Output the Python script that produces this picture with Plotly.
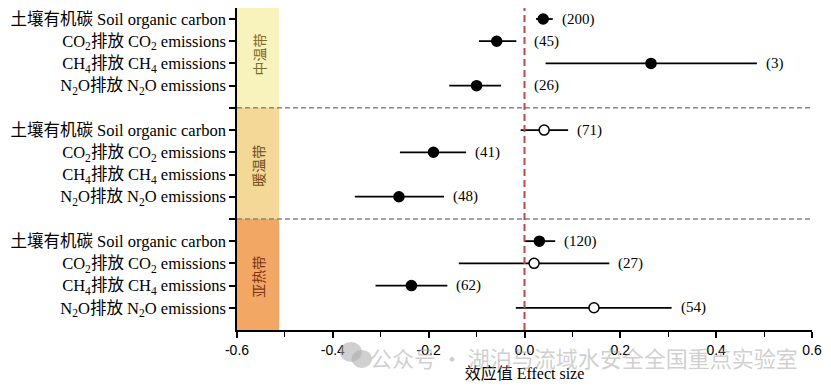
import plotly.graph_objects as go

# ---------------- data ----------------
zones = ["中温带", "暖温带", "亚热带"]
variables = [
    "土壤有机碳 Soil organic carbon",
    "CO<sub>2</sub>排放 CO<sub>2</sub> emissions",
    "CH<sub>4</sub>排放 CH<sub>4</sub> emissions",
    "N<sub>2</sub>O排放 N<sub>2</sub>O emissions",
]
# effect size (mean) per zone, order = variables; None = no data
effect_temperate = [0.039, -0.058, 0.264, -0.100]
effect_warm = [0.041, -0.190, None, -0.262]
effect_subtropical = [0.031, 0.020, -0.236, 0.145]
# lower / upper 95% CI
lower_temperate = [0.024, -0.095, 0.044, -0.157]
upper_temperate = [0.059, -0.017, 0.485, -0.049]
lower_warm = [-0.008, -0.260, None, -0.354]
upper_warm = [0.091, -0.122, None, -0.168]
lower_subtropical = [-0.001, -0.137, -0.311, -0.018]
upper_subtropical = [0.064, 0.177, -0.161, 0.307]
# sample sizes
n_temperate = [200, 45, 3, 26]
n_warm = [71, 41, None, 48]
n_subtropical = [120, 27, 62, 54]
# significant (filled) or not (open)
sig_temperate = [True, True, True, True]
sig_warm = [False, True, None, True]
sig_subtropical = [True, False, True, False]
x_ticks = [-0.6, -0.4, -0.2, 0.0, 0.2, 0.4, 0.6]

effects = [effect_temperate, effect_warm, effect_subtropical]
lowers = [lower_temperate, lower_warm, lower_subtropical]
uppers = [upper_temperate, upper_warm, upper_subtropical]
ns = [n_temperate, n_warm, n_subtropical]
sigs = [sig_temperate, sig_warm, sig_subtropical]

band_colors = ["#f8f3bd", "#f3d898", "#f2a765"]
band_text_colors = ["#7d6a2c", "#6e4f22", "#7a3414"]

SERIF = "Liberation Serif, Times New Roman, Noto Sans CJK SC, serif"
SANS = "Liberation Sans, Arial, sans-serif"

xs, ys, em, ep, colors = [], [], [], [], []
annotations = []
tickvals, ticktext = [], []
for z in range(len(zones)):
    for v in range(len(variables)):
        row = z * 5 + v + 1
        tickvals.append(row)
        ticktext.append(variables[v])
        e = effects[z][v]
        if e is None:
            continue
        lo, hi = lowers[z][v], uppers[z][v]
        xs.append(e)
        ys.append(row)
        em.append(e - lo)
        ep.append(hi - e)
        colors.append("black" if sigs[z][v] else "white")
        lx = 0.0 if (-0.06 < hi < 0) else hi
        annotations.append(dict(
            x=lx, y=row, xref="x", yref="y", text=f"({ns[z][v]})",
            showarrow=False, xanchor="left", yanchor="middle", xshift=7,
            font=dict(family=SERIF, size=15, color="black")))
    if z < len(zones) - 1:
        tickvals.append(z * 5 + 5)
        ticktext.append("")

fig = go.Figure()
fig.add_trace(go.Scatter(
    x=xs, y=ys, mode="markers",
    marker=dict(size=10, color=colors, line=dict(color="black", width=1.5)),
    error_x=dict(type="data", symmetric=False, array=ep, arrayminus=em,
                 color="black", thickness=1.8, width=0),
    showlegend=False, hoverinfo="x+y",
))

shapes = []
for z in range(len(zones)):
    shapes.append(dict(type="rect", xref="x", yref="y", x0=-0.6, x1=-0.512,
                       y0=z * 5, y1=z * 5 + 5, fillcolor=band_colors[z],
                       line=dict(width=0), layer="below"))
    annotations.append(dict(
        x=-0.556, y=z * 5 + 2.6, xref="x", yref="y", text=zones[z],
        showarrow=False, textangle=-90,
        font=dict(family="Noto Sans CJK SC", size=14, color=band_text_colors[z])))
    if z < len(zones) - 1:
        shapes.append(dict(type="line", xref="paper", yref="y", x0=0, x1=1,
                           y0=z * 5 + 5, y1=z * 5 + 5,
                           line=dict(color="#858585", width=1.5, dash="5px,3px")))

shapes.append(dict(type="line", xref="x", yref="paper", x0=0, x1=0, y0=0, y1=1,
                   line=dict(color="#b94a48", width=2, dash="7px,4px")))

# watermark
annotations.append(dict(
    x=0.603, y=-0.084, xref="paper", yref="paper", xanchor="center",
    yanchor="middle",
    text="公众号 · 湖泊与流域水安全全国重点实验室", showarrow=False,
    font=dict(family="Noto Sans CJK SC", size=22, color="rgba(160,160,160,0.5)")))
shapes.append(dict(type="circle", xref="paper", yref="paper",
                   x0=0.179, x1=0.217, y0=-0.099, y1=-0.037,
                   fillcolor="rgba(170,170,170,0.55)", line=dict(width=0)))
shapes.append(dict(type="circle", xref="paper", yref="paper",
                   x0=0.199, x1=0.235, y0=-0.118, y1=-0.062,
                   fillcolor="rgba(170,170,170,0.55)", line=dict(width=0)))

# page body has an 8px margin: figure is sized/offset to compensate
fig.update_layout(
    width=823, height=375,
    margin=dict(l=229, r=19, t=0, b=53, autoexpand=False),
    paper_bgcolor="white", plot_bgcolor="white",
    shapes=shapes, annotations=annotations,
    xaxis=dict(
        range=[-0.6, 0.6], tickvals=x_ticks,
        ticktext=[f"{t:.1f}" for t in x_ticks],
        showgrid=False, zeroline=False, showline=True, linecolor="black",
        linewidth=1.5, ticks="outside", ticklen=6, tickwidth=1.5,
        tickcolor="black", automargin=False, ticklabeloverflow="allow",
        minor=dict(dtick=0.1, tick0=-0.6, ticks="outside", ticklen=5,
                   tickwidth=1.2, tickcolor="black", showgrid=False),
        tickfont=dict(family=SANS, size=14, color="black"),
        title=dict(text="效应值 Effect size", standoff=11,
                   font=dict(family=SERIF, size=16, color="black")),
    ),
    yaxis=dict(
        range=[15, 0.505], tickvals=tickvals, ticktext=ticktext,
        showgrid=False, zeroline=False, showline=True, linecolor="black",
        linewidth=1.5, ticks="outside", ticklen=6, tickwidth=1.5,
        tickcolor="black", automargin=False, ticklabeloverflow="allow",
        tickfont=dict(family=SERIF, size=16.5, color="black"),
    ),
)

fig.write_html("out.html")
